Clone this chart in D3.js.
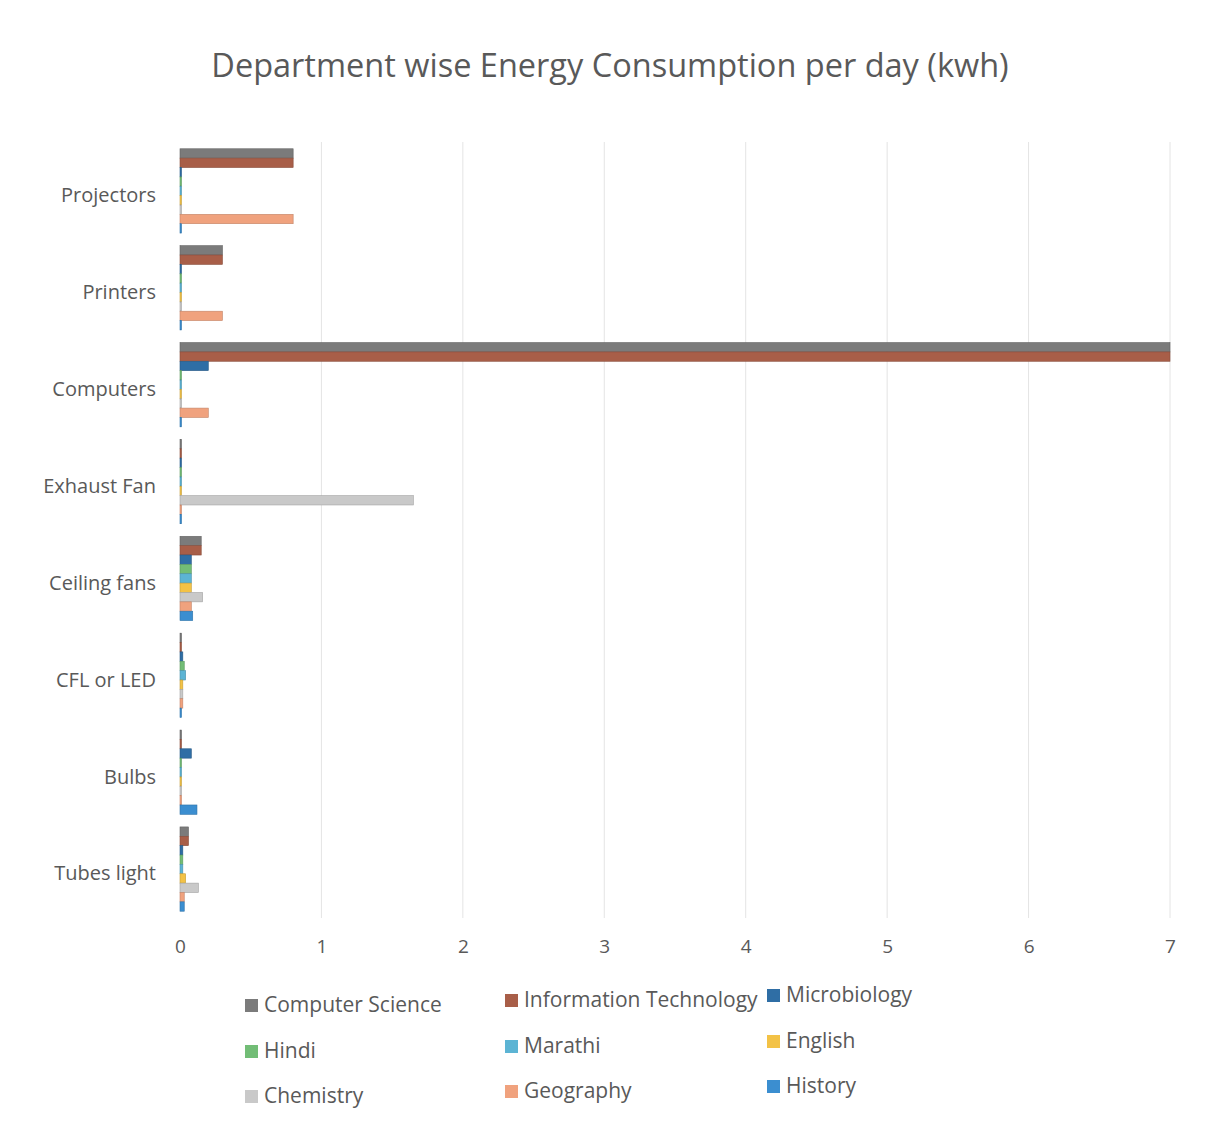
<!DOCTYPE html>
<html>
<head>
<meta charset="utf-8">
<script src="https://cdn.jsdelivr.net/npm/d3@7"></script>
<style>
  body { margin: 0; background: #fff; }
  svg text { font-family: "Open Sans", Lato, sans-serif; fill: #595959; }
</style>
</head>
<body>
<div id="chartId"></div>
<script>
/*
Data
*/
const categories = ["Projectors", "Printers", "Computers", "Exhaust Fan",
    "Ceiling fans", "CFL or LED", "Bulbs", "Tubes light"];
const seriesNames = ["Computer Science", "Information Technology", "Microbiology",
    "Hindi", "Marathi", "English", "Chemistry", "Geography", "History"];
const seriesColors = ["#7b7b7b", "#a85e48", "#2f6ea5", "#72bd76", "#5cb4d4",
    "#f3c246", "#c9c9c9", "#f0a27e", "#3b8ed0"];
const xTicks = [0, 1, 2, 3, 4, 5, 6, 7];

const computerScience = [0.8, 0.3, 7.0, 0.01, 0.15, 0.01, 0.01, 0.06];
const infoTech = [0.8, 0.3, 7.0, 0.01, 0.15, 0.01, 0.01, 0.06];
const microbiology = [0.01, 0.01, 0.2, 0.01, 0.08, 0.02, 0.08, 0.02];
const hindi = [0.01, 0.01, 0.01, 0.01, 0.08, 0.03, 0.01, 0.02];
const marathi = [0.01, 0.01, 0.01, 0.01, 0.08, 0.04, 0.01, 0.02];
const english = [0.01, 0.01, 0.01, 0.01, 0.08, 0.02, 0.01, 0.04];
const chemistry = [0.01, 0.01, 0.01, 1.65, 0.16, 0.02, 0.01, 0.13];
const geography = [0.8, 0.3, 0.2, 0.01, 0.08, 0.02, 0.01, 0.03];
const history = [0.01, 0.01, 0.01, 0.01, 0.09, 0.01, 0.12, 0.03];

const seriesValues = [computerScience, infoTech, microbiology, hindi, marathi,
    english, chemistry, geography, history];

/*
Layout
*/
const W = 1217, H = 1132;
const plot = { left: 180, right: 1170, top: 142, bottom: 918 };

const svg = d3.select("#chartId").append("svg")
    .attr("width", W)
    .attr("height", H);

const x = d3.scaleLinear().domain([0, 7]).range([plot.left, plot.right]);
const y = d3.scaleBand().domain(categories).range([plot.top, plot.bottom]).paddingInner(0.13).paddingOuter(0.07);
const ySub = d3.scaleBand().domain(seriesNames).range([0, y.bandwidth()]);

// title
svg.append("text")
    .attr("x", 610)
    .attr("y", 77)
    .attr("text-anchor", "middle")
    .style("font-size", "32.5px")
    .text("Department wise Energy Consumption per day (kwh)");

// gridlines
svg.append("g")
    .selectAll("line")
    .data(xTicks.slice(1))
    .join("line")
    .attr("x1", d => x(d)).attr("x2", d => x(d))
    .attr("y1", plot.top).attr("y2", plot.bottom)
    .attr("stroke", "#e4e4e4")
    .attr("stroke-width", 1);

// x axis labels
const xAxis = d3.axisBottom(x).tickValues(xTicks).tickFormat(d3.format("d")).tickSize(0).tickPadding(22);
const gx = svg.append("g")
    .attr("transform", `translate(0,${plot.bottom})`)
    .call(xAxis);
gx.select(".domain").remove();
gx.selectAll("text").style("font-size", "19px").attr("fill", "#595959");

// y axis labels
const yAxis = d3.axisLeft(y).tickSize(0).tickPadding(24);
const gy = svg.append("g")
    .attr("transform", `translate(${plot.left},5)`)
    .call(yAxis);
gy.select(".domain").remove();
gy.selectAll("text").style("font-size", "20px").attr("fill", "#595959");

// bars
const groups = svg.append("g")
    .selectAll("g")
    .data(seriesNames)
    .join("g")
    .attr("fill", (d, i) => seriesColors[i]);

groups.selectAll("rect")
    .data((s, i) => categories.map((c, j) => ({ series: s, cat: c, value: seriesValues[i][j], idx: i })))
    .join("rect")
    .attr("x", x(0))
    .attr("y", d => y(d.cat) + ySub(d.series))
    .attr("width", d => Math.max(1.5, x(d.value) - x(0)))
    .attr("height", ySub.bandwidth())
    .attr("stroke", d => d3.color(seriesColors[d.idx]).darker(0.6))
    .attr("stroke-width", 0.6);

// legend
const legendPos = [
    [245, 1005], [505, 1000], [767, 995],
    [245, 1051], [505, 1046], [767, 1041],
    [245, 1096], [505, 1091], [767, 1086]
];
const legend = svg.append("g")
    .selectAll("g")
    .data(seriesNames)
    .join("g")
    .attr("transform", (d, i) => `translate(${legendPos[i][0]},${legendPos[i][1]})`);

legend.append("rect")
    .attr("x", 0).attr("y", -6)
    .attr("width", 13).attr("height", 13)
    .attr("fill", (d, i) => seriesColors[i]);

legend.append("text")
    .attr("x", 19)
    .attr("y", 0)
    .attr("dy", "0.35em")
    .style("font-size", "21px")
    .text(d => d);
</script>
</body>
</html>
